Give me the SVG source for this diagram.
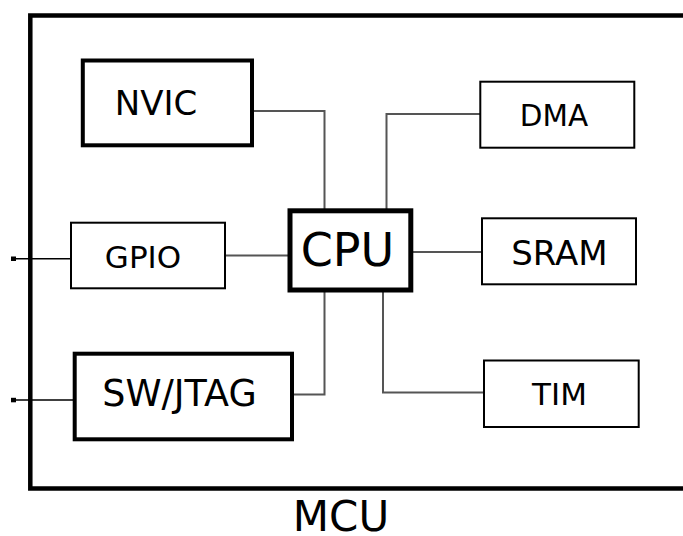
<svg xmlns="http://www.w3.org/2000/svg" width="683" height="536" viewBox="0 0 683 536">
<style>
.box{fill:#fff;stroke:#000}
.thin{stroke-width:2}
.thick{stroke-width:4}
text{font-family:"DejaVu Sans","Liberation Sans",sans-serif;fill:#000;text-anchor:middle}
.conn{fill:none;stroke:#555;stroke-width:2}
.pin{fill:none;stroke:#000;stroke-width:1.6}
</style>
<rect width="683" height="536" fill="#fff"/>
<g id="mcu">
<path d="M690 15.5 H30.3 V488.5 H690" fill="none" stroke="#000" stroke-width="4.5"/>
<text x="341" y="531" font-size="42">MCU</text>
</g>
<g id="connectors">
<path class="conn" d="M252 111 H324.5 V210"/>
<path class="conn" d="M480 114 H386.5 V210"/>
<path class="conn" d="M225 255.5 H290"/>
<path class="conn" d="M410 252 H482"/>
<path class="conn" d="M292 394.5 H324.5 V290"/>
<path class="conn" d="M484 392.5 H383 V290"/>
<path class="pin" d="M14 258.7 H71"/>
<rect x="11" y="256.5" width="5" height="4.5" fill="#000"/>
<path class="pin" d="M14 400 H74"/>
<rect x="11" y="397.8" width="5" height="4.5" fill="#000"/>
</g>
<g id="nvic">
<rect class="box thick" x="82.8" y="60.5" width="169.2" height="84.8"/>
<text x="156" y="115" font-size="34">NVIC</text>
</g>
<g id="gpio">
<rect class="box thin" x="71" y="222.7" width="154" height="65.6"/>
<text x="143" y="267.5" font-size="31">GPIO</text>
</g>
<g id="swjtag">
<rect class="box thick" x="74.7" y="353.7" width="217.3" height="85.6"/>
<text x="179.5" y="405.7" font-size="36.5">SW/JTAG</text>
</g>
<g id="cpu">
<rect class="box" stroke-width="5" x="290" y="210.8" width="120.8" height="79.2"/>
<text x="347.5" y="266" font-size="46">CPU</text>
</g>
<g id="dma">
<rect class="box thin" x="480.3" y="81.7" width="154" height="66"/>
<text x="554" y="125.7" font-size="29.5">DMA</text>
</g>
<g id="sram">
<rect class="box thin" x="482" y="218.3" width="154" height="66"/>
<text x="559.5" y="265" font-size="34">SRAM</text>
</g>
<g id="tim">
<rect class="box thin" x="484" y="360.5" width="154.7" height="66.5"/>
<text x="559.5" y="405" font-size="31">TIM</text>
</g>
</svg>
